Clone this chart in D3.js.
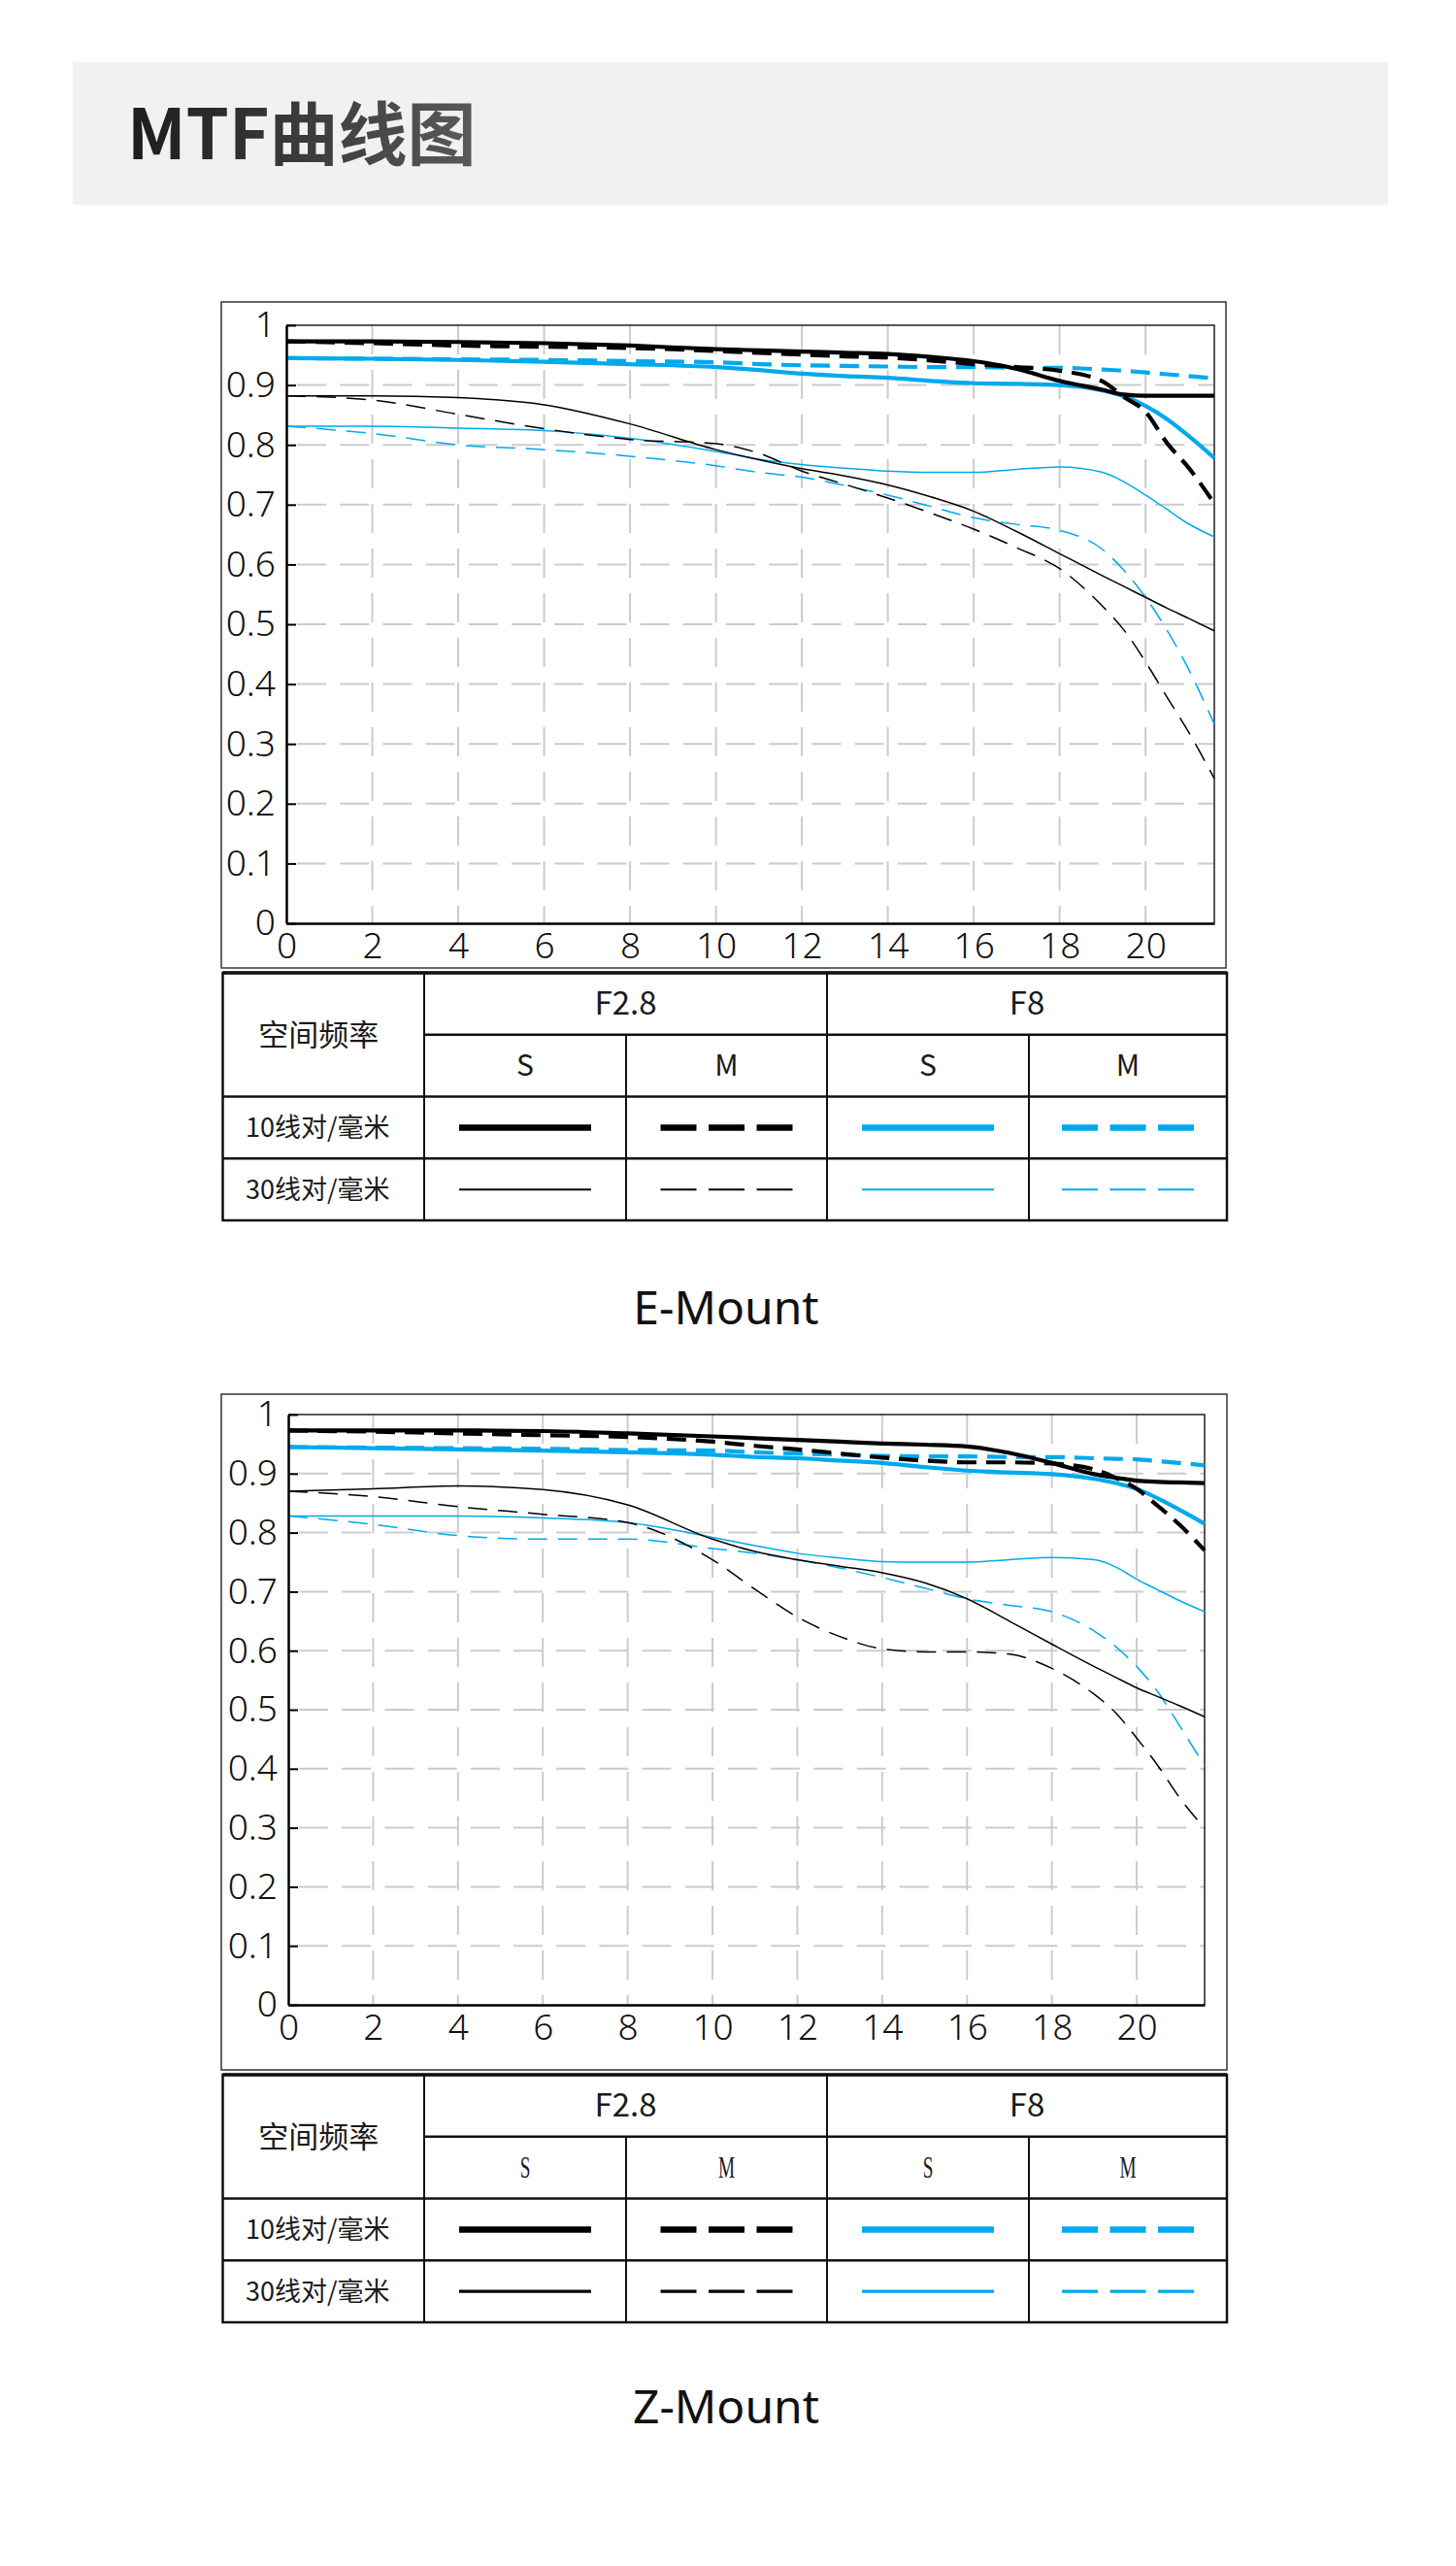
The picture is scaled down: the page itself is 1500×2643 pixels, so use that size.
<!DOCTYPE html>
<html>
<head>
<meta charset="utf-8">
<script src="https://cdn.jsdelivr.net/npm/d3@7"></script>
<style>
  body { margin: 0; background: #fff; }
  svg { display: block; }
</style>
</head>
<body>
<div id="page"></div>
<script>
// ---- data ----
const freqX = [0, 2, 4, 6, 8, 10, 11, 12, 13, 14, 15, 16, 17, 18, 19, 19.5, 20, 20.5, 21, 21.6];

const eF28S10 = [0.973,0.973,0.972,0.970,0.966,0.960,0.958,0.956,0.954,0.952,0.947,0.940,0.927,0.907,0.892,0.884,0.882,0.882,0.882,0.882];
const eF28M10 = [0.973,0.970,0.966,0.964,0.962,0.957,0.954,0.951,0.948,0.946,0.941,0.935,0.930,0.924,0.906,0.880,0.855,0.803,0.762,0.702];
const eF8S10  = [0.945,0.944,0.942,0.939,0.935,0.930,0.925,0.919,0.915,0.912,0.907,0.903,0.902,0.900,0.891,0.881,0.865,0.843,0.815,0.778];
const eF8M10  = [0.945,0.944,0.943,0.942,0.940,0.938,0.935,0.933,0.932,0.931,0.930,0.930,0.929,0.929,0.926,0.924,0.921,0.918,0.915,0.911];
const eF28S30 = [0.882,0.882,0.879,0.867,0.835,0.792,0.775,0.760,0.748,0.733,0.713,0.689,0.655,0.618,0.581,0.563,0.545,0.527,0.510,0.489];
const eF28M30 = [0.882,0.875,0.851,0.827,0.809,0.802,0.786,0.756,0.734,0.711,0.686,0.659,0.628,0.593,0.530,0.490,0.437,0.378,0.320,0.242];
const eF8S30  = [0.831,0.831,0.828,0.824,0.811,0.789,0.776,0.767,0.761,0.756,0.754,0.754,0.759,0.763,0.754,0.738,0.716,0.692,0.668,0.646];
const eF8M30  = [0.831,0.819,0.800,0.792,0.781,0.765,0.754,0.746,0.732,0.716,0.697,0.678,0.667,0.657,0.625,0.590,0.545,0.490,0.425,0.333];

const zF28S10 = [0.973,0.973,0.973,0.972,0.968,0.963,0.960,0.957,0.954,0.951,0.949,0.946,0.935,0.918,0.899,0.893,0.888,0.886,0.885,0.884];
const zF28M10 = [0.973,0.971,0.968,0.965,0.962,0.954,0.947,0.941,0.934,0.927,0.922,0.919,0.919,0.917,0.907,0.893,0.874,0.845,0.814,0.770];
const zF8S10  = [0.945,0.943,0.941,0.939,0.936,0.932,0.928,0.926,0.922,0.918,0.911,0.905,0.902,0.899,0.891,0.884,0.874,0.858,0.839,0.815];
const zF8M10  = [0.945,0.944,0.943,0.942,0.940,0.939,0.936,0.934,0.932,0.930,0.929,0.929,0.928,0.928,0.926,0.925,0.924,0.921,0.918,0.914];
const zF28S30 = [0.870,0.874,0.879,0.873,0.847,0.789,0.768,0.754,0.743,0.732,0.715,0.688,0.650,0.611,0.573,0.555,0.537,0.522,0.507,0.488];
const zF28M30 = [0.870,0.861,0.844,0.831,0.817,0.754,0.704,0.657,0.624,0.603,0.598,0.598,0.594,0.570,0.526,0.495,0.452,0.405,0.352,0.299];
const zF8S30  = [0.828,0.828,0.828,0.825,0.817,0.792,0.778,0.765,0.757,0.751,0.750,0.750,0.754,0.758,0.754,0.742,0.721,0.703,0.685,0.666];
const zF8M30  = [0.828,0.814,0.795,0.789,0.789,0.773,0.765,0.754,0.740,0.724,0.706,0.688,0.677,0.666,0.633,0.607,0.573,0.530,0.474,0.405];

const xTickValues = [0, 2, 4, 6, 8, 10, 12, 14, 16, 18, 20];
const xTickLabels = ["0","2","4","6","8","10","12","14","16","18","20"];
const yTickValues = [0, 0.1, 0.2, 0.3, 0.4, 0.5, 0.6, 0.7, 0.8, 0.9, 1];
const yTickLabels = ["0","0.1","0.2","0.3","0.4","0.5","0.6","0.7","0.8","0.9","1"];

const apertures  = ["F2.8", "F8"];
const directions = ["S", "M", "S", "M"];
const freqLabels = ["10线对/毫米", "30线对/毫米"];
const pageTitle  = "MTF曲线图";

// ---- styles ----
const BLUE = "#00a9ec";
const FONT_CJK = '"Noto Sans CJK SC","Noto Sans",sans-serif';
const FONT_NUM = '"Noto Sans","DejaVu Sans",sans-serif';

// F2.8 = black, F8 = blue ; S = solid, M = dashed ; 10 = thick, 30 = thin
function lineStyle(ap, dir, lp){
  return {
    color: ap === "F2.8" ? "#000" : BLUE,
    width: lp === 10 ? 4.2 : 1.5,
    dash: dir === "M" ? (lp === 10 ? "20,10" : "20,11") : null
  };
}

const svg = d3.select("#page").append("svg")
  .attr("width", 1500)
  .attr("height", 2643);

// ---- header ----
const defs = svg.append("defs");
const grad = defs.append("linearGradient").attr("id","titleGrad").attr("x1","0").attr("x2","1");
grad.append("stop").attr("offset","0%").attr("stop-color","#1c1c1c");
grad.append("stop").attr("offset","100%").attr("stop-color","#5a5a5a");

svg.append("rect")
  .attr("x", 75).attr("y", 64)
  .attr("width", 1355).attr("height", 147)
  .attr("fill", "#f1f1f1");

svg.append("text")
  .attr("x", 131).attr("y", 164)
  .attr("font-family", FONT_CJK)
  .attr("font-size", 71)
  .attr("font-weight", 700)
  .attr("fill", "url(#titleGrad)")
  .text(pageTitle);

// ---- one chart + legend table ----
function drawMount(spec){
  const g = svg.append("g");

  // outer frame of the chart
  g.append("rect")
    .attr("x", spec.box[0]).attr("y", spec.box[1])
    .attr("width", spec.box[2] - spec.box[0])
    .attr("height", spec.box[3] - spec.box[1])
    .attr("fill", "none").attr("stroke", "#333").attr("stroke-width", 1.5);

  const p = spec.plot;
  const x = d3.scaleLinear().domain([0, 21.6]).range([p.l, p.r]);
  const y = d3.scaleLinear().domain([0, 1]).range([p.b, p.t]);

  // dashed grid
  g.append("g").selectAll("line")
    .data(yTickValues.filter(v => v > 0 && v < 1))
    .enter().append("line")
    .attr("x1", p.l).attr("x2", p.r)
    .attr("y1", d => y(d)).attr("y2", d => y(d))
    .attr("stroke", "#cbcbcb").attr("stroke-width", 2)
    .attr("stroke-dasharray", "30,14.2").attr("stroke-dashoffset", -11);

  g.append("g").selectAll("line")
    .data(xTickValues.filter(v => v > 0))
    .enter().append("line")
    .attr("x1", d => x(d)).attr("x2", d => x(d))
    .attr("y1", p.t).attr("y2", p.b)
    .attr("stroke", "#cbcbcb").attr("stroke-width", 2)
    .attr("stroke-dasharray", "30,16");

  // top + right border of plot
  g.append("path")
    .attr("d", `M${p.l},${p.t}H${p.r}V${p.b}`)
    .attr("fill", "none").attr("stroke", "#222").attr("stroke-width", 1.5);

  // curves: thin first, then thick; blue below black
  const line = d3.line()
    .x((d, i) => x(freqX[i]))
    .y(d => y(d))
    .curve(d3.curveMonotoneX);

  const order = [
    ["F8","S",30], ["F8","M",30], ["F2.8","S",30], ["F2.8","M",30],
    ["F8","S",10], ["F8","M",10], ["F2.8","S",10], ["F2.8","M",10]
  ];
  order.forEach(([ap, dir, lp]) => {
    const st = lineStyle(ap, dir, lp);
    g.append("path")
      .datum(spec.series[ap + dir + lp])
      .attr("d", line)
      .attr("fill", "none")
      .attr("stroke", st.color)
      .attr("stroke-width", st.width)
      .attr("stroke-dasharray", st.dash);
  });

  // axes
  const yAx = g.append("g")
    .attr("transform", `translate(${p.l},0)`)
    .call(d3.axisLeft(y).tickValues(yTickValues)
      .tickFormat((d, i) => yTickLabels[i])
      .tickSizeInner(-10).tickSizeOuter(0).tickPadding(11))
    .attr("font-family", FONT_NUM)
    .attr("font-size", 37)
    .attr("font-weight", 300);
  yAx.select(".domain").attr("stroke", "#000").attr("stroke-width", 2.5);
  yAx.selectAll(".tick line").attr("stroke", "#000").attr("stroke-width", 2);
  yAx.selectAll(".tick text").attr("fill", "#111");

  const xAx = g.append("g")
    .attr("transform", `translate(0,${p.b})`)
    .call(d3.axisBottom(x).tickValues(xTickValues)
      .tickFormat((d, i) => xTickLabels[i])
      .tickSize(0).tickPadding(10))
    .attr("font-family", FONT_NUM)
    .attr("font-size", 37)
    .attr("font-weight", 300);
  xAx.select(".domain").attr("stroke", "#000").attr("stroke-width", 2.5);
  xAx.selectAll(".tick text").attr("fill", "#111");

  // ---- legend table ----
  const t = spec.table;
  const cols = [t.x0, 437, 645, 852, 1060, t.x1];
  const rowH = (t.y1 - t.y0) / 4;
  const rows = [t.y0, t.y0 + rowH, t.y0 + 2 * rowH, t.y0 + 3 * rowH, t.y1];
  const tg = g.append("g").attr("stroke", "#111").attr("fill", "none");

  tg.append("rect")
    .attr("x", t.x0).attr("y", t.y0)
    .attr("width", t.x1 - t.x0).attr("height", t.y1 - t.y0)
    .attr("stroke-width", 2.5);
  tg.append("line").attr("x1", t.x0).attr("x2", t.x1).attr("y1", t.y0).attr("y2", t.y0).attr("stroke-width", 3.5);

  [[cols[1], rows[0]], [cols[3], rows[0]], [cols[2], rows[1]], [cols[4], rows[1]]].forEach(([cx, top]) => {
    tg.append("line").attr("x1", cx).attr("x2", cx).attr("y1", top).attr("y2", t.y1).attr("stroke-width", 2);
  });
  [[cols[1], rows[1]], [t.x0, rows[2]], [t.x0, rows[3]]].forEach(([left, ry]) => {
    tg.append("line").attr("x1", left).attr("x2", t.x1).attr("y1", ry).attr("y2", ry).attr("stroke-width", 2.5);
  });

  const mid = (a, b) => (a + b) / 2;

  g.append("text")
    .attr("x", mid(cols[0], cols[1]) - 5).attr("y", mid(rows[0], rows[2]))
    .attr("dy", "0.35em").attr("text-anchor", "middle")
    .attr("font-family", FONT_CJK).attr("font-size", 31).attr("fill", "#1a1a1a")
    .text("空间频率");

  apertures.forEach((a, i) => {
    g.append("text")
      .attr("x", mid(cols[1 + 2 * i], cols[3 + 2 * i])).attr("y", mid(rows[0], rows[1]))
      .attr("dy", "0.35em").attr("text-anchor", "middle")
      .attr("font-family", FONT_CJK).attr("font-size", 33).attr("fill", "#1a1a1a")
      .text(a);
  });

  directions.forEach((dname, j) => {
    const cx = mid(cols[1 + j], cols[2 + j]);
    const cy = mid(rows[1], rows[2]);
    const txt = g.append("text")
      .attr("dy", "0.35em").attr("text-anchor", "middle")
      .attr("fill", "#1a1a1a")
      .text(dname);
    if (spec.serifHeads) {
      txt.attr("transform", `translate(${cx},${cy}) scale(0.62,1)`)
        .attr("font-family", '"Liberation Serif",serif').attr("font-size", 31);
    } else {
      txt.attr("x", cx).attr("y", cy)
        .attr("font-family", FONT_CJK).attr("font-size", 30);
    }
  });

  freqLabels.forEach((f, r) => {
    const lp = r === 0 ? 10 : 30;
    const cy = mid(rows[2 + r], rows[3 + r]);
    g.append("text")
      .attr("x", mid(cols[0], cols[1]) - 6).attr("y", cy)
      .attr("dy", "0.35em").attr("text-anchor", "middle")
      .attr("font-family", FONT_CJK).attr("font-size", 27).attr("fill", "#1a1a1a")
      .text(f);
    directions.forEach((dname, j) => {
      const ap = apertures[j < 2 ? 0 : 1];
      const st = lineStyle(ap, dname, lp);
      const cx = mid(cols[1 + j], cols[2 + j]);
      g.append("line")
        .attr("x1", cx - 68).attr("x2", cx + 68)
        .attr("y1", cy).attr("y2", cy)
        .attr("stroke", st.color)
        .attr("stroke-width", lp === 10 ? 6.5 : spec.thinLegend)
        .attr("stroke-dasharray", dname === "M" ? "37,12.5" : null);
    });
  });

  // mount name
  g.append("text")
    .attr("x", 748).attr("y", spec.labelY)
    .attr("text-anchor", "middle")
    .attr("font-family", FONT_NUM).attr("font-size", 48).attr("fill", "#111")
    .text(spec.name);
}

drawMount({
  name: "E-Mount",
  box: [228, 311, 1263, 997],
  plot: { l: 295, r: 1251, t: 335, b: 951 },
  table: { x0: 229.5, x1: 1264, y0: 1002, y1: 1257 },
  labelY: 1364,
  serifHeads: false,
  thinLegend: 2,
  series: {
    "F2.8S10": eF28S10, "F2.8M10": eF28M10, "F8S10": eF8S10, "F8M10": eF8M10,
    "F2.8S30": eF28S30, "F2.8M30": eF28M30, "F8S30": eF8S30, "F8M30": eF8M30
  }
});

drawMount({
  name: "Z-Mount",
  box: [228, 1436, 1264, 2132],
  plot: { l: 297, r: 1241, t: 1457, b: 2065 },
  table: { x0: 229.5, x1: 1264, y0: 2137, y1: 2392 },
  labelY: 2496,
  serifHeads: true,
  thinLegend: 3.2,
  series: {
    "F2.8S10": zF28S10, "F2.8M10": zF28M10, "F8S10": zF8S10, "F8M10": zF8M10,
    "F2.8S30": zF28S30, "F2.8M30": zF28M30, "F8S30": zF8S30, "F8M30": zF8M30
  }
});
</script>
</body>
</html>
